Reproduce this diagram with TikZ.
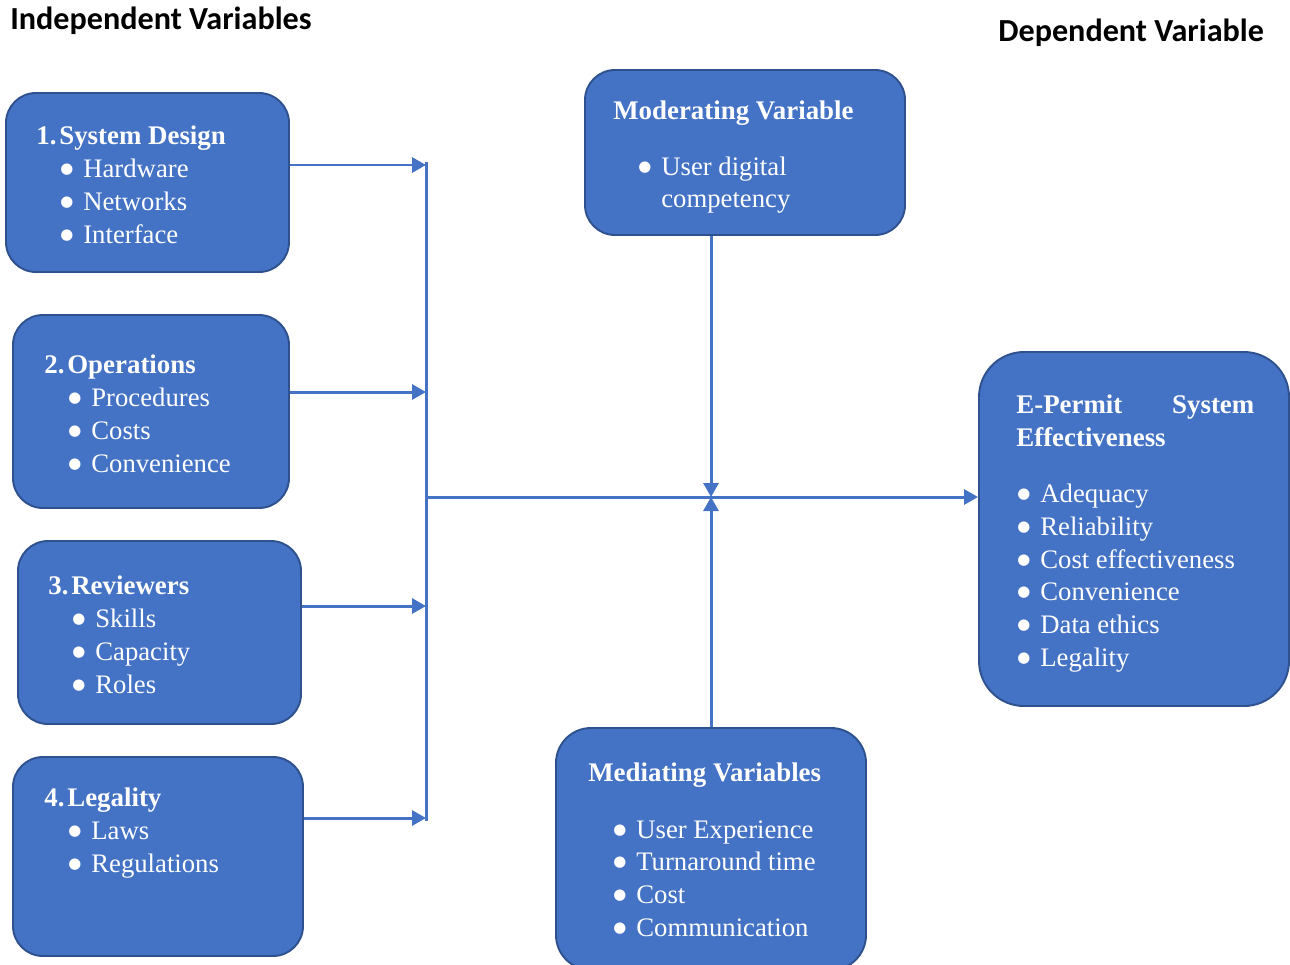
\documentclass[tikz,border=0pt]{standalone}
\usepackage{fontspec}
\setmainfont{Liberation Serif}
\newfontfamily\headfont{Carlito}
\newfontfamily\dotfont{DejaVu Sans}
\usetikzlibrary{arrows.meta,fit}
\definecolor{boxblue}{HTML}{4472C4}
\definecolor{boxedge}{HTML}{2F528F}
\tikzset{
  box/.style={draw=boxedge, line width=1.1pt, fill=boxblue, inner sep=0pt, rounded corners=0.6cm},
  title/.style={anchor=base west, inner sep=0pt, text=white, font=\fontsize{15.3}{18}\selectfont\bfseries},
  item/.style={anchor=base west, inner sep=0pt, text=white, font=\fontsize{15.2}{18}\selectfont},
  head/.style={anchor=west, inner sep=0pt, font=\headfont\fontsize{18.3}{22}\selectfont\bfseries},
  link/.style={draw=boxblue, line width=1.7pt},
  flow/.style={link, -{Triangle[length=0.28cm, width=0.3cm]}}
}
\newcommand{\bul}{\makebox[0.46cm][l]{\raisebox{2pt}{\dotfont\fontsize{8.5}{9}\selectfont ●}}}
\newcommand{\num}[1]{\makebox[0.46cm][l]{#1.}}
\begin{document}
\begin{tikzpicture}[x=0.02cm, y=-0.02cm]
\useasboundingbox (0,0) rectangle (1290,964);
% headings
\node[head] (indep) at (10,21) {Independent Variables};
\node[head] (dep) at (998,33) {Dependent Variable};
% boxes
\node[box, fit={(6,93)(289,272)}] (sd) {};
\node[box, fit={(13,315)(289,508)}] (op) {};
\node[box, fit={(18,541)(301,724)}] (rv) {};
\node[box, fit={(13,757)(303,956)}] (lg) {};
\node[box, fit={(585,70)(905,235)}] (mod) {};
\node[box, rounded corners=0.7cm, fit={(556,728)(866,970)}] (med) {};
\node[box, rounded corners=0.9cm, fit={(979,352)(1289,706)}] (ep) {};
% box texts (at baselines)
\node[title] (sd-t) at (36,144) {\num{1}System Design};
\foreach \y/\t in {177/Hardware, 210/Networks, 243/Interface}
  \node[item, name=sd-\y] at (60,\y) {\bul\t};
\node[title] (op-t) at (44,373) {\num{2}Operations};
\foreach \y/\t in {406/Procedures, 439/Costs, 472/Convenience}
  \node[item, name=op-\y] at (68,\y) {\bul\t};
\node[title] (rv-t) at (48,594) {\num{3}Reviewers};
\foreach \y/\t in {627/Skills, 660/Capacity, 693/Roles}
  \node[item, name=rv-\y] at (72,\y) {\bul\t};
\node[title] (lg-t) at (44,806) {\num{4}Legality};
\foreach \y/\t in {839/Laws, 872/Regulations}
  \node[item, name=lg-\y] at (68,\y) {\bul\t};
\node[title] (mod-t) at (613,119) {Moderating Variable};
\node[item] (mod-a) at (638,175) {\bul User digital};
\node[item] (mod-b) at (661,207) {competency};
\node[title] (med-t) at (588,781) {Mediating Variables};
\foreach \y/\t in {838/User Experience, 870/Turnaround time, 903/Cost, 936/Communication}
  \node[item, name=med-\y] at (613,\y) {\bul\t};
\node[title] (ep-t) at (1016,413) {\makebox[4.76cm][s]{E-Permit\hfill System}};
\node[title] (ep-u) at (1016,446) {Effectiveness};
\foreach \y/\t in {502/Adequacy, 535/Reliability, 568/Cost effectiveness, 600/Convenience, 633/Data ethics, 666/Legality}
  \node[item, name=ep-\y] at (1017,\y) {\bul\t};
% connectors
\coordinate (top) at (426,162);
\coordinate (bot) at (426,821);
\coordinate (c1) at (426,165);
\coordinate (c2) at (426,392);
\coordinate (c3) at (426,606);
\coordinate (c4) at (426,818);
\coordinate (left) at (426,497);
\coordinate (hub) at (711,497);
\draw[link] (top) -- (bot);
\draw[flow] (c1 -| sd.east) -- (c1);
\draw[flow] (c2 -| op.east) -- (c2);
\draw[flow] (c3 -| rv.east) -- (c3);
\draw[flow] (c4 -| lg.east) -- (c4);
\draw[flow] (left) -- (left -| ep.west);
\draw[flow] (hub |- mod.south) -- (hub);
\draw[flow] (hub |- med.north) -- (hub);
\end{tikzpicture}
\end{document}
